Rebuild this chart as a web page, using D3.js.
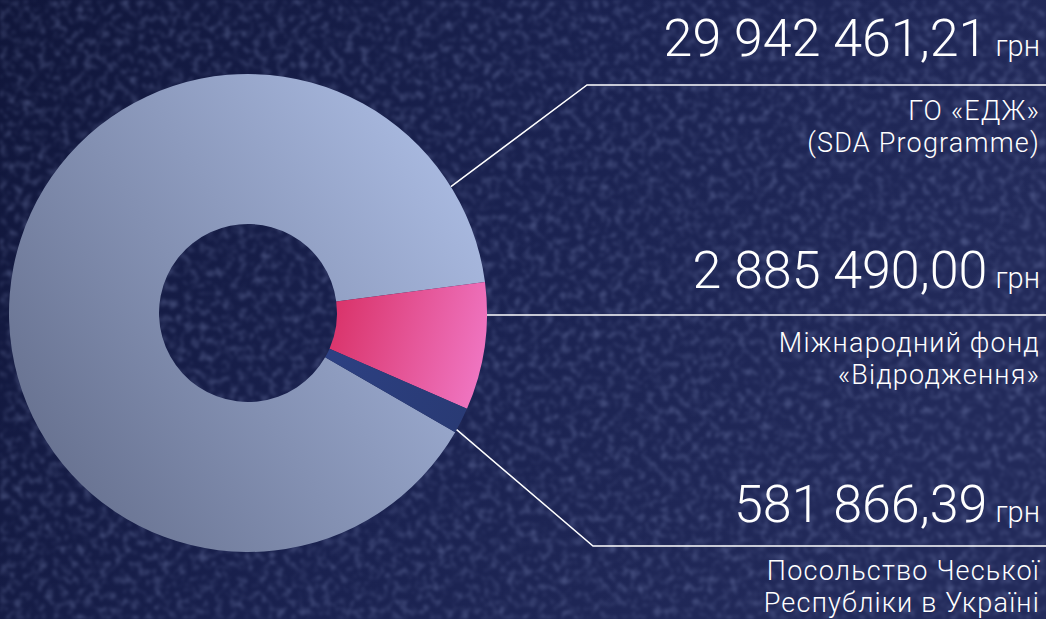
<!DOCTYPE html>
<html>
<head>
<meta charset="utf-8">
<script src="https://cdn.jsdelivr.net/npm/d3@7"></script>
<style>
  html, body { margin: 0; padding: 0; background: #161c40; }
  svg { display: block; }
</style>
</head>
<body>
<svg id="chart" width="1046" height="619"></svg>
<script>
// ---- data ----
const categories = ["ГО «ЕДЖ» (SDA Programme)", "Міжнародний фонд «Відродження»", "Посольство Чеської Республіки в Україні"];
const values = [29942461.21, 2885490.00, 581866.39];
const amountLabels = ["29 942 461,21", "2 885 490,00", "581 866,39"];
const currency = "грн";
const nameLines = [
  ["ГО «ЕДЖ»", "(SDA Programme)"],
  ["Міжнародний фонд", "«Відродження»"],
  ["Посольство Чеської", "Республіки в Україні"]
];

// ---- layout ----
const W = 1046, H = 619;
const cx = 248, cy = 313, rOuter = 239, rInner = 89;
const deg = Math.PI / 180;
const startAngle = 119.9 * deg;
const leaderAngles = [58.1, 90.5, 119.2];      // where leader lines leave the ring (deg)
const elbowX = [587, null, 593];
const lineY = [85, 315, 546];
const amountBaseline = [56, 288, 522];
const nameBaseline = [120, 352, 580];
const nameLineGap = 32;
const textRight = 1040;

const svg = d3.select("#chart");
const defs = svg.append("defs");

// background gradient
const bg = defs.append("linearGradient").attr("id", "bg")
  .attr("x1", 0).attr("y1", 0).attr("x2", 1).attr("y2", 0.3);
bg.append("stop").attr("offset", "0%").attr("stop-color", "#10163a");
bg.append("stop").attr("offset", "55%").attr("stop-color", "#1a2250");
bg.append("stop").attr("offset", "100%").attr("stop-color", "#222a5a");

// noise filter
const f = defs.append("filter").attr("id", "noise")
  .attr("x", 0).attr("y", 0).attr("width", "100%").attr("height", "100%");
f.append("feTurbulence").attr("type", "fractalNoise").attr("baseFrequency", 0.13)
  .attr("numOctaves", 2).attr("seed", 7).attr("result", "t");
f.append("feColorMatrix").attr("in", "t").attr("type", "matrix")
  .attr("values", "0 0 0 0 0.35  0 0 0 0 0.42  0 0 0 0 0.75  2.6 0 0 0 -1.2")
  .attr("result", "m");
f.append("feGaussianBlur").attr("in", "m").attr("stdDeviation", 1.4);

// slice gradients (coordinates relative to the donut centre)
const gBig = defs.append("linearGradient").attr("id", "gBig")
  .attr("gradientUnits", "userSpaceOnUse")
  .attr("x1", -240).attr("y1", 150).attr("x2", 235).attr("y2", -150);
gBig.append("stop").attr("offset", "0%").attr("stop-color", "#646e8c");
gBig.append("stop").attr("offset", "100%").attr("stop-color", "#acbde4");

const gPink = defs.append("linearGradient").attr("id", "gPink")
  .attr("gradientUnits", "userSpaceOnUse")
  .attr("x1", 85).attr("y1", -10).attr("x2", 239).attr("y2", 30);
gPink.append("stop").attr("offset", "0%").attr("stop-color", "#d93268");
gPink.append("stop").attr("offset", "100%").attr("stop-color", "#ef74c0");

const gNavy = defs.append("linearGradient").attr("id", "gNavy")
  .attr("gradientUnits", "userSpaceOnUse")
  .attr("x1", 80).attr("y1", 40).attr("x2", 220).attr("y2", 110);
gNavy.append("stop").attr("offset", "0%").attr("stop-color", "#2c4082");
gNavy.append("stop").attr("offset", "100%").attr("stop-color", "#293a74");

const fills = ["url(#gBig)", "url(#gPink)", "url(#gNavy)"];

// background
svg.append("rect").attr("width", W).attr("height", H).attr("fill", "url(#bg)");
svg.append("rect").attr("width", W).attr("height", H).attr("filter", "url(#noise)").attr("opacity", 0.3);

// donut
const pie = d3.pie().sort(null).value(d => d)
  .startAngle(startAngle).endAngle(startAngle + 2 * Math.PI);
const arc = d3.arc().innerRadius(rInner).outerRadius(rOuter);
const g = svg.append("g").attr("transform", `translate(${cx},${cy})`);
g.selectAll("path").data(pie(values)).join("path")
  .attr("d", arc).attr("fill", (d, i) => fills[i]);

// leader lines
values.forEach((v, i) => {
  const a = leaderAngles[i] * deg;
  const x0 = cx + rOuter * Math.sin(a), y0 = cy - rOuter * Math.cos(a);
  const pts = elbowX[i] === null
    ? [[x0, lineY[i]], [W, lineY[i]]]
    : [[x0, y0], [elbowX[i], lineY[i]], [W, lineY[i]]];
  svg.append("path").attr("d", d3.line()(pts))
    .attr("fill", "none").attr("stroke", "#ffffff").attr("stroke-width", 1.5);
});

// amounts
const font = "Roboto, 'Open Sans', sans-serif";
amountLabels.forEach((t, i) => {
  const txt = svg.append("text").attr("x", textRight).attr("y", amountBaseline[i])
    .attr("text-anchor", "end").attr("fill", "#ffffff")
    .attr("font-family", font).attr("font-weight", 300);
  txt.append("tspan").attr("font-size", 52).text(t);
  txt.append("tspan").attr("font-size", 29).attr("dx", 8).text(currency);
});

// names
nameLines.forEach((lines, i) => {
  lines.forEach((l, j) => {
    svg.append("text").attr("x", textRight).attr("y", nameBaseline[i] + j * nameLineGap)
      .attr("text-anchor", "end").attr("fill", "#ffffff")
      .attr("font-family", font).attr("font-weight", 300)
      .attr("font-size", 27).attr("letter-spacing", 1.2).text(l);
  });
});
</script>
</body>
</html>
